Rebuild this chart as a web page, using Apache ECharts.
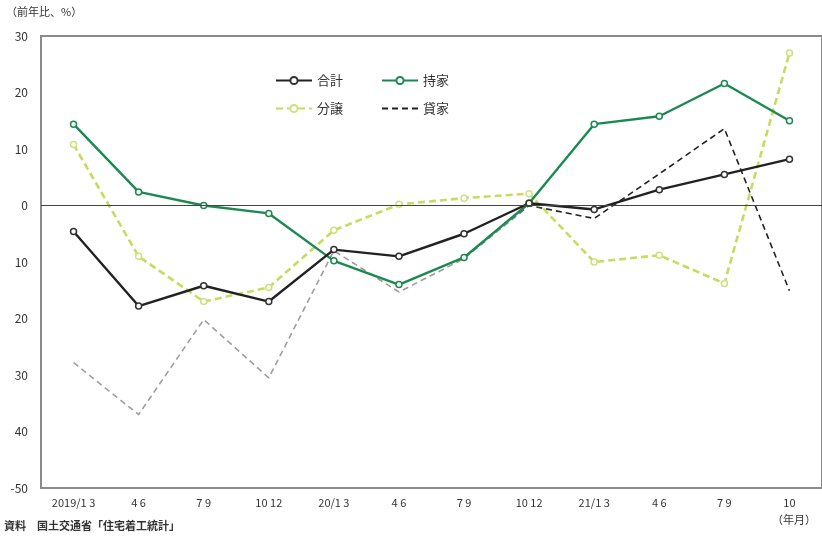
<!DOCTYPE html>
<html><head><meta charset="utf-8">
<script src="https://cdn.jsdelivr.net/npm/echarts@6/dist/echarts.min.js"></script>
<style>html,body{margin:0;padding:0;background:#fff}#c{width:822px;height:536px}</style>
</head><body><div id="c"></div>
<script>
const categories = ["2019/1 3","4 6","7 9","10 12","20/1 3","4 6","7 9","10 12","21/1 3","4 6","7 9","10"];
const total  = [-4.6,-17.8,-14.2,-17.0,-7.8,-9.0,-5.0,0.4,-0.7,2.8,5.5,8.2];
const owner  = [14.4,2.4,0.0,-1.4,-9.8,-14.0,-9.2,0.4,14.4,15.8,21.6,15.0];
const sale   = [10.8,-9.0,-17.0,-14.5,-4.4,0.2,1.3,2.1,-10.0,-8.8,-13.8,27.0];
const rental = [-27.8,-37.0,-20.2,-30.5,-8.0,-15.3,-9.4,0.0,-2.3,5.6,13.6,-15.1];
const yTicks = [-50,-40,-30,-20,-10,0,10,20,30];
const yTickLabels = ["-50","40","30","20","10","0","10","20","30"];
const names = ["合計","持家","分譲","貸家"];

const FONT = '"Noto Sans CJK JP", "Noto Sans", sans-serif';
const chart = echarts.init(document.getElementById('c'), null, {renderer:'canvas'});
const sym = (c) => ({symbol:'circle', symbolSize:6, itemStyle:{color:'#fff', borderColor:c, borderWidth:1.5}});
const legendText = {fontSize:13,color:'#333',fontFamily:FONT};
chart.setOption({
  animation:false,
  textStyle:{fontFamily:FONT},
  grid:{left:41,right:-4,top:36,bottom:48,show:true,borderColor:'#8a8a8a',borderWidth:2,backgroundColor:'transparent'},
  graphic:[
    {type:'text',left:6,top:6,style:{text:'（前年比、%）',font:'11px '+FONT,fill:'#333'}},
    {type:'text',left:4,top:520,style:{text:'資料　国土交通省「住宅着工統計」',font:'bold 11px '+FONT,fill:'#333'}},
    {type:'text',left:772,top:514,style:{text:'（年月）',font:'11px '+FONT,fill:'#333'}}
  ],
  legend:[
    {data:['合計','持家'],left:270,top:69,itemWidth:36,itemHeight:9,itemGap:38,textStyle:legendText},
    {data:['分譲',{name:'貸家',itemStyle:{opacity:0},lineStyle:{color:'#222'}}],
     left:270,top:97,itemWidth:36,itemHeight:9,itemGap:38,textStyle:legendText}
  ],
  xAxis:{type:'category',data:categories,boundaryGap:true,
    axisLine:{show:false},axisTick:{show:false},
    axisLabel:{margin:9,fontSize:11,color:'#333',fontFamily:FONT,interval:0},
    splitLine:{show:false}},
  yAxis:{type:'value',min:-50,max:30,interval:10,
    axisLine:{show:false},axisTick:{show:false},splitLine:{show:false},
    axisLabel:{margin:13,fontSize:12,color:'#333',fontFamily:FONT,
      formatter:(v)=>{const i=yTicks.indexOf(Math.round(v));return i>=0?yTickLabels[i]:'';}}},
  series:[
    {name:names[3],type:'line',data:rental,showSymbol:false,symbol:'none',
     lineStyle:{width:1.6,type:[6,4],
       color:new echarts.graphic.LinearGradient(0,0,1,0,[
         {offset:0,color:'#a0a0a0'},{offset:0.6,color:'#9a9a9a'},{offset:0.66,color:'#222'},{offset:1,color:'#222'}])},
     itemStyle:{color:'#222'},z:1},
    {name:names[2],type:'line',data:sale,...sym('#d8e89a'),
     lineStyle:{width:2.6,type:[7,4],color:'#c7dc5e'},
     itemStyle:{color:'#fff',borderColor:'#cfe07f',borderWidth:1.5},z:2},
    {name:names[1],type:'line',data:owner,...sym('#1b8a50'),
     lineStyle:{width:2.4,color:'#1b8a50'},z:3},
    {name:names[0],type:'line',data:total,...sym('#333'),
     lineStyle:{width:2.4,color:'#222'},z:4,
     markLine:{silent:true,symbol:'none',label:{show:false},
       lineStyle:{color:'#444',width:1.2,type:'solid'},data:[{yAxis:0}]}}
  ]
});
</script></body></html>
